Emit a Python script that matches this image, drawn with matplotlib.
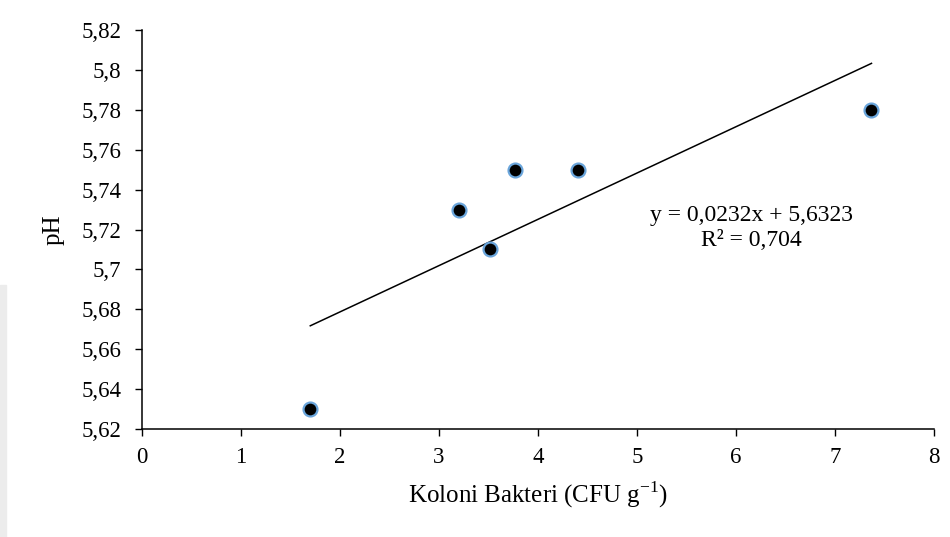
import matplotlib
matplotlib.use('agg')
import matplotlib.pyplot as plt
import numpy as np

# data
koloni = [1.70, 3.20, 3.52, 3.77, 4.40, 7.37]
ph = [5.63, 5.73, 5.71, 5.75, 5.75, 5.78]
slope, intercept = 0.0232, 5.6323
r2 = "0,704"
yticks = [5.62, 5.64, 5.66, 5.68, 5.70, 5.72, 5.74, 5.76, 5.78, 5.80, 5.82]
ytick_labels = ["5,62", "5,64", "5,66", "5,68", "5,7", "5,72", "5,74", "5,76", "5,78", "5,8", "5,82"]
xticks = [0, 1, 2, 3, 4, 5, 6, 7, 8]

plt.rcParams['font.family'] = ['Liberation Serif', 'DejaVu Serif']
plt.rcParams['mathtext.fontset'] = 'custom'
plt.rcParams['mathtext.rm'] = 'Liberation Serif'

fig = plt.figure(figsize=(9.5, 5.37), dpi=100)
# faint watermark strip on the left edge
fig.patches.append(plt.Rectangle((0, 0), 0.0065, 0.47, transform=fig.transFigure,
                                 color='#ececec', zorder=0))
ax = fig.add_axes([0.1495, 0.2011, 0.8335, 0.743])

xs = np.array([min(koloni), max(koloni)])
ax.plot(xs, slope * xs + intercept, color='black', lw=1.1, zorder=2)
ax.scatter(koloni, ph, s=100, facecolor='black', edgecolor='#6aa5db', linewidth=1.6, zorder=3)

ax.text(6.16, 5.7208, "y = 0,0232x + 5,6323\nR² = " + r2, ha='center', va='center',
        fontsize=17, linespacing=1.2)

ax.set_xlim(0, 8)
ax.set_ylim(5.62, 5.82)
ax.set_xticks(xticks)
ax.set_yticks(yticks)
ax.set_yticklabels(ytick_labels)
ax.tick_params(labelsize=16.5, length=5, width=1, direction='out')
ax.tick_params(axis='y', pad=10)
ax.tick_params(axis='x', pad=8)
for side in ('top', 'right'):
    ax.spines[side].set_visible(False)
for side in ('left', 'bottom'):
    ax.spines[side].set_linewidth(1.1)

ax.set_xlabel("Koloni Bakteri (CFU g$^{-1}$)", fontsize=18, labelpad=8)
ax.set_ylabel("pH", fontsize=18, labelpad=12)

fig.savefig('out.png', dpi=100)
